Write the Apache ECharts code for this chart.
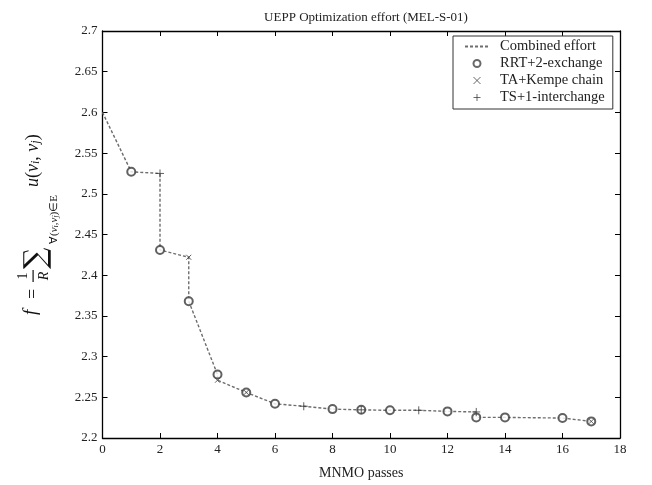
<!DOCTYPE html>
<html>
<head>
<meta charset="utf-8">
<script src="https://cdn.jsdelivr.net/npm/echarts@6/dist/echarts.min.js"></script>
<style>html,body{margin:0;padding:0;background:#fff}#c{width:652px;height:485px}</style>
</head>
<body>
<div id="c"></div>
<script>
// ---- data ----
const xTicks = [0, 2, 4, 6, 8, 10, 12, 14, 16, 18];
const yTicks = [2.2, 2.25, 2.3, 2.35, 2.4, 2.45, 2.5, 2.55, 2.6, 2.65, 2.7];
const combinedX = [0, 1, 2, 2, 3, 3, 4, 4, 5, 6, 7, 8, 9, 10, 11, 12, 13, 13, 14, 16, 17];
const combinedY = [2.6, 2.527, 2.525, 2.431, 2.422, 2.368, 2.278, 2.271, 2.256, 2.242, 2.239, 2.2355, 2.2346, 2.234, 2.234, 2.2327, 2.232, 2.2253, 2.2253, 2.2245, 2.2204];
const rrtX = [1, 2, 3, 4, 5, 6, 8, 9, 10, 12, 13, 14, 16, 17];
const rrtY = [2.527, 2.431, 2.368, 2.278, 2.256, 2.242, 2.2355, 2.2346, 2.234, 2.2327, 2.2253, 2.2253, 2.2245, 2.2204];
const taX = [3, 4, 5, 17];
const taY = [2.422, 2.271, 2.256, 2.2204];
const tsX = [2, 7, 9, 11, 13];
const tsY = [2.525, 2.239, 2.2346, 2.234, 2.232];

const pairs = (xs, ys) => xs.map((x, i) => [x, ys[i]]);
const SERIF = '"Liberation Serif", "DejaVu Serif", serif';
const INK = '#222';
const MARK = '#3a3a3a';

const chart = echarts.init(document.getElementById('c'), null, {renderer: 'canvas'});

const axisCommon = {
  axisLine: {show: true, onZero: false, lineStyle: {color: '#000', width: 1.3}},
  axisTick: {show: true, inside: true, length: 5, lineStyle: {color: '#000', width: 1}},
  splitLine: {show: false}
};
const hidden = {color: 'rgba(0,0,0,0)', borderColor: 'rgba(0,0,0,0)', borderWidth: 0};
const thinMark = {borderColor: '#444', borderWidth: 1};

chart.setOption({
  animation: false,
  backgroundColor: '#fff',
  title: {
    text: 'UEPP Optimization effort (MEL-S-01)',
    left: 361, top: 6, textAlign: 'center',
    textStyle: {fontFamily: SERIF, fontSize: 13, fontWeight: 'normal', color: INK}
  },
  grid: {left: 102.5, top: 31, right: 32, bottom: 45, containLabel: false},
  legend: {
    orient: 'vertical',
    left: 453, top: 36,
    padding: [2, 8, 3, 11],
    itemGap: 0,
    itemWidth: 24, itemHeight: 7,
    backgroundColor: '#fff',
    borderColor: '#333', borderWidth: 1,
    textStyle: {fontFamily: SERIF, fontSize: 14.5, color: INK, lineHeight: 17, padding: [0, 0, 0, 6]},
    data: [
      {name: 'Combined effort', itemStyle: hidden},
      {name: 'RRT+2-exchange', itemStyle: {color: '#444', borderColor: '#444', borderWidth: 1}},
      {name: 'TA+Kempe chain', itemStyle: thinMark},
      {name: 'TS+1-interchange', itemStyle: thinMark}
    ]
  },
  xAxis: [
    Object.assign({
      type: 'value', min: 0, max: 18, interval: 2, position: 'bottom',
      name: 'MNMO passes', nameLocation: 'middle', nameGap: 28,
      nameTextStyle: {fontFamily: SERIF, fontSize: 14, color: INK},
      axisLabel: {fontFamily: SERIF, fontSize: 13, color: INK, margin: 5}
    }, axisCommon),
    Object.assign({
      type: 'value', min: 0, max: 18, interval: 2, position: 'top',
      axisLabel: {show: false}
    }, axisCommon)
  ],
  yAxis: [
    Object.assign({
      type: 'value', min: 2.2, max: 2.7, interval: 0.05, position: 'left',
      axisLabel: {fontFamily: SERIF, fontSize: 13, color: INK, margin: 5,
        formatter: v => String(+v.toFixed(2))}
    }, axisCommon),
    Object.assign({
      type: 'value', min: 2.2, max: 2.7, interval: 0.05, position: 'right',
      axisLabel: {show: false}
    }, axisCommon)
  ],
  series: [
    {
      name: 'Combined effort', type: 'line', xAxisIndex: 0, yAxisIndex: 0,
      data: pairs(combinedX, combinedY),
      symbol: 'none', z: 1,
      lineStyle: {color: '#6e6e6e', width: 1.4, type: [3, 2]},
      itemStyle: {color: '#6e6e6e'}
    },
    {
      name: 'RRT+2-exchange', type: 'scatter', xAxisIndex: 0, yAxisIndex: 0,
      data: pairs(rrtX, rrtY),
      symbol: 'emptyCircle', symbolSize: 8, z: 3,
      itemStyle: {color: MARK, borderColor: MARK, borderWidth: 1}
    },
    {
      name: 'TA+Kempe chain', type: 'scatter', xAxisIndex: 0, yAxisIndex: 0,
      data: pairs(taX, taY),
      symbol: 'path://M0,0L10,10M10,0L0,10', symbolSize: 5, z: 4,
      itemStyle: {color: 'rgba(0,0,0,0)', borderColor: MARK, borderWidth: 1}
    },
    {
      name: 'TS+1-interchange', type: 'scatter', xAxisIndex: 0, yAxisIndex: 0,
      data: pairs(tsX, tsY),
      symbol: 'path://M5,0L5,10M0,5L10,5', symbolSize: 8, z: 4,
      itemStyle: {color: 'rgba(0,0,0,0)', borderColor: MARK, borderWidth: 1}
    }
  ],
  graphic: [{
    type: 'group', x: 40, y: 310, rotation: Math.PI / 2,
    children: [
      {type: 'text', x: -5, y: -9, style: {text: 'f', font: 'italic 19px "Liberation Serif"', align: 'left', verticalAlign: 'middle', fill: '#111'}},
      {type: 'text', x: 11, y: -7, style: {text: '=', font: '18px "Liberation Serif"', align: 'left', verticalAlign: 'middle', fill: '#111'}},
      {type: 'text', x: 34, y: -17, style: {text: '1', font: '14px "Liberation Serif"', align: 'center', verticalAlign: 'middle', fill: '#111'}},
      {type: 'rect', shape: {x: 28, y: -7.5, width: 12, height: 1.2}, style: {fill: '#111'}},
      {type: 'text', x: 34, y: 4, style: {text: 'R', font: 'italic 14px "Liberation Serif"', align: 'center', verticalAlign: 'middle', fill: '#111'}},
      {type: 'text', x: 41, y: -3, style: {text: '\u2211', font: '30px "DejaVu Serif"', align: 'left', verticalAlign: 'middle', fill: '#111'}},
      {type: 'text', x: 66, y: 14, style: {
        text: '\u2200({v|v}{s|i},{v|v}{s|j})\u2208E',
        font: '11px "Liberation Serif"', align: 'left', verticalAlign: 'middle', fill: '#111',
        rich: {v: {fontStyle: 'italic', fontSize: 11, fontFamily: 'Liberation Serif'}, s: {fontStyle: 'italic', fontSize: 8, fontFamily: 'Liberation Serif', verticalAlign: 'bottom', padding: [4, 0, 0, 0]}}
      }},
      {type: 'text', x: 123, y: -7, style: {
        text: '{v|u}({v|v}{s|i}, {v|v}{s|j})',
        font: '18px "Liberation Serif"', align: 'left', verticalAlign: 'middle', fill: '#111',
        rich: {v: {fontStyle: 'italic', fontSize: 18, fontFamily: 'Liberation Serif'}, s: {fontStyle: 'italic', fontSize: 12, fontFamily: 'Liberation Serif', verticalAlign: 'bottom', padding: [6, 0, 0, 0]}}
      }}
    ]
  }]
});
</script>
</body>
</html>
